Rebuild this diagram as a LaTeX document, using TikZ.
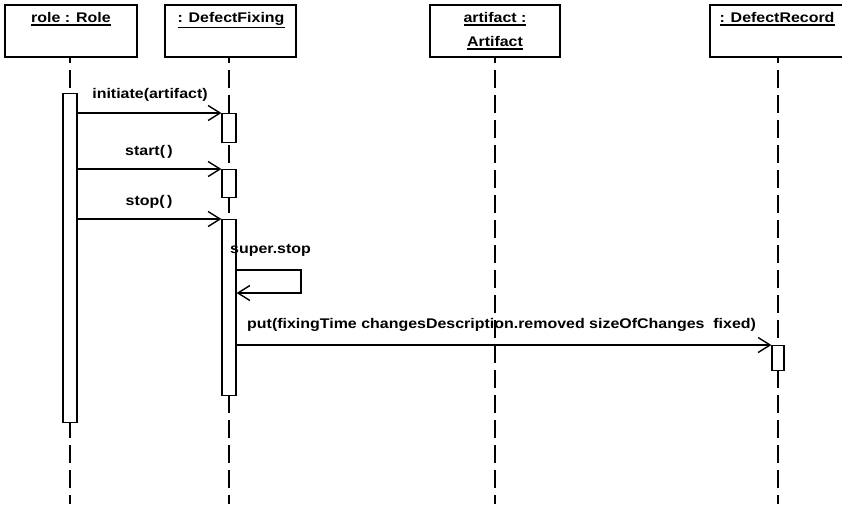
\documentclass[tikz,border=0pt]{standalone}
\usepackage{fontspec}
\setmainfont{Liberation Sans}[FakeStretch=1.14]
\usetikzlibrary{arrows.meta}
% underlined object name: text with a thick rule below it
\newcommand\objname[1]{\leavevmode\vtop{\hbox{#1}\kern 2pt\hrule height 1.1pt}}
\begin{document}
\begin{tikzpicture}[x=1pt,y=-1pt,
  font=\bfseries\fontsize{14}{17}\selectfont,
  headbox/.style={draw, line width=1.4pt, minimum width=132pt, minimum height=52pt, inner sep=0pt},
  headtext/.style={anchor=north, inner sep=0pt, align=center},
  lifeline/.style={line width=1.2pt, dash pattern=on 18pt off 7pt, dash phase=12pt},
  actbar/.style={draw, fill=white, line width=1.2pt, minimum width=14pt, inner sep=0pt, anchor=north},
  msg/.style={line width=1.1pt, -{Straight Barb[length=12pt,width=15pt,line width=1.4pt]}},
  lbl/.style={inner sep=0pt}]
  \clip (0,0) rectangle (842,504);
  \fill[white] (0,0) rectangle (842,504);

  % object heads
  \node[headbox] (role) at (71,31) {};
  \node[headbox, minimum width=131pt] (fix) at (230.5,31) {};
  \node[headbox, minimum width=130pt] (art) at (495,31) {};
  \node[headbox, minimum width=136pt] (rec) at (778,31) {};
  \node[headtext] (roleT) at (71,12) {\objname{role : Role}};
  \node[headtext] (fixT) at (231,12) {\objname{: DefectFixing}};
  \node[headtext] (artT) at (495,12) {\objname{artifact :}\\[7pt]\objname{Artifact}};
  \node[headtext] (recT) at (777,12) {\objname{: DefectRecord}};

  % lifelines
  \draw[lifeline] (70,57) -- (70,504);
  \draw[lifeline] (229,57) -- (229,504);
  \draw[lifeline] (495,57) -- (495,504);
  \draw[lifeline] (778,57) -- (778,504);

  % activation bars
  \node[actbar, minimum height=329pt] (roleA) at (70,93) {};
  \node[actbar, minimum height=29pt] (fixA1) at (229,113) {};
  \node[actbar, minimum height=28pt] (fixA2) at (229,169) {};
  \node[actbar, minimum height=176pt] (fixA3) at (229,219) {};
  \node[actbar, minimum width=12pt, minimum height=25pt] (recA) at (778,345) {};

  % messages
  \draw[msg] (roleA.east |- fixA1.north west) -- (fixA1.north west);
  \node[lbl] (m1) at (150,95) {initiate(artifact)};
  \draw[msg] (roleA.east |- fixA2.north west) -- (fixA2.north west);
  \node[lbl] (m2) at (149,152) {start(\,)};
  \draw[msg] (roleA.east |- fixA3.north west) -- (fixA3.north west);
  \node[lbl] (m3) at (149,202) {stop(\,)};

  % self call
  \coordinate (selfTop) at (301,270);
  \coordinate (selfBot) at (301,293);
  \draw[msg] (fixA3.east |- selfTop) -- (selfTop) -- (selfBot) -- (fixA3.east |- selfBot);
  \node[lbl, anchor=west] (m4) at (230,250) {super.stop};

  % record call
  \draw[msg] (fixA3.east |- recA.north west) -- (recA.north west);
  \node[lbl, anchor=west] (m5) at (247,325) {put(fixingTime changesDescription.removed sizeOfChanges\ \ fixed)};
\end{tikzpicture}
\end{document}
